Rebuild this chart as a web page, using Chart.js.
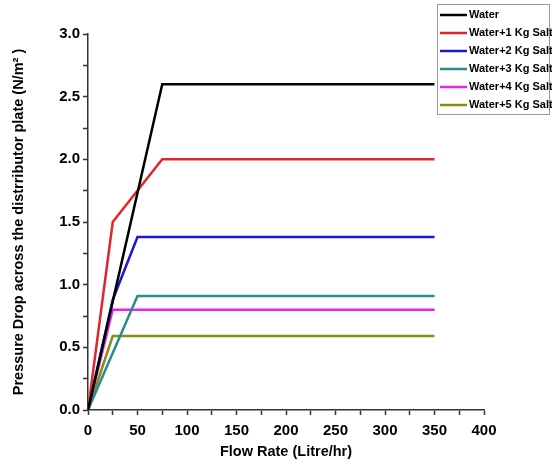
<!DOCTYPE html>
<html>
<head>
<meta charset="utf-8">
<script src="https://cdn.jsdelivr.net/npm/chart.js@4/dist/chart.umd.min.js"></script>
<style>
  html, body { margin: 0; padding: 0; background: #fff; }
  #wrap { width: 552px; height: 469px; }
</style>
</head>
<body>
<div id="wrap"><canvas id="chart" width="552" height="469"></canvas></div>
<script>
// series
var seriesLabels = ['Water', 'Water+1 Kg Salt', 'Water+2 Kg Salt', 'Water+3 Kg Salt', 'Water+4 Kg Salt', 'Water+5 Kg Salt'];
var seriesColors = ['#000000', '#e0262b', '#1a1acc', '#2a8c8c', '#e626e6', '#8c8c14'];

var waterFlow = [0, 75, 350];
var waterDrop = [0, 2.6, 2.6];
var salt1Flow = [0, 25, 75, 350];
var salt1Drop = [0, 1.5, 2.0, 2.0];
var salt2Flow = [0, 25, 50, 350];
var salt2Drop = [0, 0.88, 1.38, 1.38];
var salt3Flow = [0, 50, 350];
var salt3Drop = [0, 0.91, 0.91];
var salt4Flow = [0, 25, 350];
var salt4Drop = [0, 0.80, 0.80];
var salt5Flow = [0, 25, 350];
var salt5Drop = [0, 0.59, 0.59];

var flows = [waterFlow, salt1Flow, salt2Flow, salt3Flow, salt4Flow, salt5Flow];
var drops = [waterDrop, salt1Drop, salt2Drop, salt3Drop, salt4Drop, salt5Drop];

var FONT = 'Liberation Sans, Arial, sans-serif';

var datasets = [];
for (var i = 0; i < seriesLabels.length; i++) {
	var pts = [];
	for (var j = 0; j < flows[i].length; j++) {
		pts.push({ x: flows[i][j], y: drops[i][j] });
	}
	datasets.push({
		label: seriesLabels[i],
		data: pts,
		borderColor: seriesColors[i],
		backgroundColor: seriesColors[i],
		borderWidth: 2.5,
		pointRadius: 0,
		fill: false,
		tension: 0
	});
}

// boxed legend sitting in the top right corner
var boxLegend = {
	id: 'boxLegend',
	afterDraw: function (chart) {
		var ctx = chart.ctx;
		var x0 = 437, y0 = 4, w = 112, h = 110;
		ctx.save();
		ctx.fillStyle = '#fff';
		ctx.fillRect(x0, y0, w, h);
		ctx.strokeStyle = '#9a9a9a';
		ctx.lineWidth = 1;
		ctx.strokeRect(x0 + 0.5, y0 + 0.5, w, h);
		ctx.font = 'bold 11px ' + FONT;
		ctx.textBaseline = 'middle';
		var ds = chart.data.datasets;
		for (var k = 0; k < ds.length; k++) {
			var y = 15 + k * 18;
			ctx.strokeStyle = ds[k].borderColor;
			ctx.lineWidth = 2.5;
			ctx.beginPath();
			ctx.moveTo(440, y);
			ctx.lineTo(467, y);
			ctx.stroke();
			ctx.fillStyle = '#000';
			ctx.fillText(ds[k].label, 469, y);
		}
		ctx.restore();
	}
};

var ctx = document.getElementById('chart').getContext('2d');
var chart = new Chart(ctx, {
	type: 'line',
	data: { datasets: datasets },
	options: {
		responsive: false,
		animation: false,
		layout: { padding: { left: 0, right: 68, top: 34, bottom: 0 } },
		plugins: {
			legend: { display: false },
			tooltip: { enabled: false }
		},
		scales: {
			x: {
				type: 'linear',
				min: 0,
				max: 400,
				afterFit: function (s) { s.height = 59; },
				border: { display: true, color: '#333', width: 1.5 },
				grid: { drawOnChartArea: false, drawTicks: true, tickLength: 5, tickColor: '#333', tickWidth: 1.5 },
				ticks: {
					stepSize: 25,
					padding: 7,
					color: '#000',
					font: { family: FONT, size: 15, weight: 'bold' },
					maxRotation: 0,
					autoSkip: false,
					callback: function (v) { return v % 50 === 0 ? v : ''; }
				},
				title: {
					display: true,
					text: 'Flow Rate (Litre/hr)',
					color: '#000',
					font: { family: FONT, size: 14.5, weight: 'bold' },
					padding: { top: 4, bottom: 8 }
				}
			},
			y: {
				min: 0,
				max: 3,
				afterFit: function (s) { s.width = 88; },
				border: { display: true, color: '#333', width: 1.5 },
				grid: { drawOnChartArea: false, drawTicks: true, tickLength: 5, tickColor: '#333', tickWidth: 1.5 },
				ticks: {
					stepSize: 0.25,
					padding: 3,
					color: '#000',
					font: { family: FONT, size: 15, weight: 'bold' },
					autoSkip: false,
					callback: function (v) {
						return Math.abs(v * 2 - Math.round(v * 2)) < 1e-6 ? v.toFixed(1) : '';
					}
				},
				title: {
					display: true,
					text: 'Pressure Drop across the distrributor plate (N/m\u00B2 )',
					color: '#000',
					font: { family: FONT, size: 14.5, weight: 'bold' },
					padding: { top: 10, bottom: 8 }
				}
			}
		}
	},
	plugins: [boxLegend]
});
</script>
</body>
</html>
